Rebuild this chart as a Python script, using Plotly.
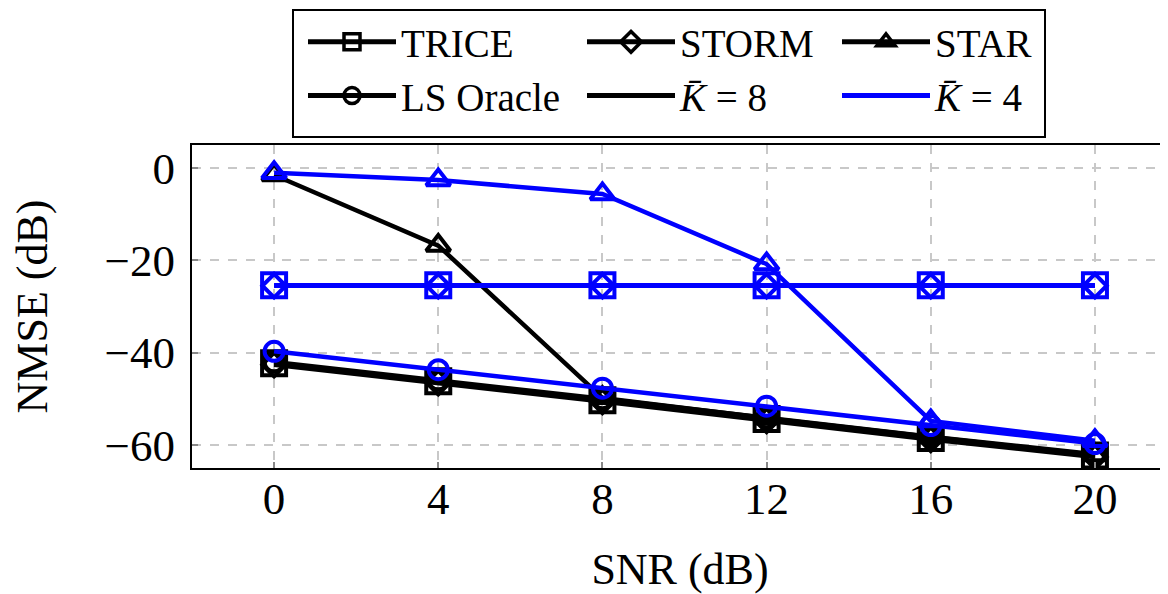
import plotly.graph_objects as go

snr = [0, 4, 8, 12, 16, 20]

# K-bar = 8 (black)
trice_k8 = [-42.3, -46.2, -50.3, -54.4, -58.5, -62.3]
storm_k8 = [-42.6, -46.5, -50.6, -54.7, -58.8, -62.6]
star_k8 = [-1.5, -16.8, -49.8, -54.2, -58.3, -62.2]
ls_k8 = [-42.0, -45.9, -50.0, -54.1, -58.2, -62.0]

# K-bar = 4 (blue)
trice_k4 = [-25.4, -25.4, -25.4, -25.4, -25.4, -25.4]
storm_k4 = [-25.5, -25.5, -25.5, -25.5, -25.5, -25.5]
star_k4 = [-1.0, -2.6, -5.6, -20.8, -54.8, -59.1]
ls_k4 = [-39.7, -43.7, -47.7, -51.6, -55.8, -59.7]

x_ticks = [0, 4, 8, 12, 16, 20]
y_ticks = [0, -20, -40, -60]

FONT = "Liberation Serif"
BLACK = "#000000"
BLUE = "#0000ff"

# name, symbol, plot marker size
methods = [
    ("TRICE", "square-open", 24),
    ("STORM", "diamond-open", 18),
    ("STAR", "triangle-up-open", 21),
    ("LS Oracle", "circle-open", 19),
]

fig = go.Figure()

series = [
    (BLACK, [trice_k8, storm_k8, star_k8, ls_k8]),
    (BLUE, [trice_k4, storm_k4, star_k4, ls_k4]),
]
for color, ys in series:
    for (name, sym, size), y in zip(methods, ys):
        fig.add_trace(go.Scatter(
            x=snr, y=y, mode="lines+markers", showlegend=False,
            line=dict(color=color, width=4.5),
            marker=dict(symbol=sym, size=size, color=color,
                        line=dict(color=color, width=4)),
        ))

# legend entries: three columns, each its own legend
legend_entries = [
    ("TRICE", "square-open", "legend", BLACK, True),
    ("LS Oracle", "circle-open", "legend", BLACK, True),
    ("STORM", "diamond-open", "legend2", BLACK, True),
    ("<i>K̄</i> = 8", None, "legend2", BLACK, False),
    ("STAR", "triangle-up-open", "legend3", BLACK, True),
    ("<i>K̄</i> = 4", None, "legend3", BLUE, False),
]
for name, sym, leg, color, has_marker in legend_entries:
    if has_marker:
        fig.add_trace(go.Scatter(
            x=[None], y=[None], mode="lines+markers", name=name, legend=leg,
            line=dict(color=color, width=5),
            marker=dict(symbol=sym, size=16, color=color, line=dict(color=color, width=3.5)),
        ))
    else:
        fig.add_trace(go.Scatter(
            x=[None], y=[None], mode="lines", name=name, legend=leg,
            line=dict(color=color, width=5),
        ))

axis_common = dict(
    showgrid=True, gridcolor="#c8c8c8", gridwidth=1.5, griddash="dash",
    zeroline=False, showline=True, linecolor=BLACK, linewidth=2,
    ticks="inside", ticklen=6, tickcolor="#888888", tickwidth=1.5,
    tickfont=dict(family=FONT, size=45, color=BLACK),
    automargin=False,
)

leg_common = dict(
    orientation="v", xanchor="left", yanchor="top", y=1.418,
    itemwidth=88, borderwidth=0, bgcolor="rgba(0,0,0,0)",
    font=dict(family=FONT, size=39, color=BLACK),
    tracegroupgap=0,
)

fig.update_layout(
    width=1160, height=586,
    margin=dict(l=184, r=0, t=137, b=126),
    paper_bgcolor="white", plot_bgcolor="white",
    font=dict(family=FONT, color=BLACK),
    xaxis=dict(range=[-2, 21.78], tickvals=x_ticks, mirror=True,
               title=dict(text="SNR (dB)", font=dict(family=FONT, size=44), standoff=32),
               ticklabelstandoff=-10, **axis_common),
    yaxis=dict(range=[-65, 5], tickvals=y_ticks, mirror=False,
               title=dict(text="NMSE (dB)", font=dict(family=FONT, size=44), standoff=43),
               ticklabelstandoff=6, **axis_common),
    legend=dict(x=(303 - 192) / 976, **leg_common),
    legend2=dict(x=(582 - 192) / 976, **leg_common),
    legend3=dict(x=(837 - 192) / 976, **leg_common),
    shapes=[dict(
        type="rect", xref="paper", yref="paper",
        x0=(293 - 192) / 976, x1=(1045 - 192) / 976,
        y0=1 + (145 - 137) / 323, y1=1 + (145 - 10) / 323,
        line=dict(color=BLACK, width=2), fillcolor="rgba(0,0,0,0)", layer="above",
    )],
)

fig.write_html("out.html")
